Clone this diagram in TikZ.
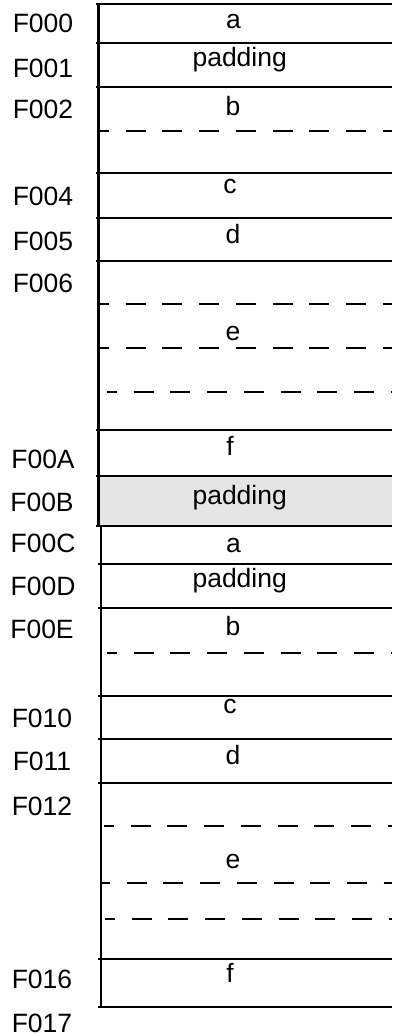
\documentclass[tikz,border=0pt]{standalone}
\usepackage{fontspec}
\setmainfont{Liberation Sans}
\begin{document}
\begin{tikzpicture}[x=1pt,y=-1pt,
  rowline/.style={line width=2.2pt},
  dashline/.style={line width=2.2pt, dash pattern=on 20pt off 16.7pt, dash phase=10pt},
  colline/.style={line width=2.2pt},
  addr/.style={anchor=base, inner sep=0pt, font=\fontsize{26.5}{31}\selectfont},
  field/.style={anchor=base, inner sep=0pt, font=\fontsize{26.5}{31}\selectfont},
  padfill/.style={fill=black!10}]
\useasboundingbox (0,0) rectangle (392,1036);
% gray padding block
\fill[padfill] (98.5,475.7) rectangle (392,525.7);
% vertical lines
\draw[colline] (98.5,3) -- (98.5,526.5);
\draw[colline] (100.7,525) -- (100.7,1007.7);
% solid row lines
\foreach \y in {4,43.3,86.7,173.3,217.7,261,430,475.7,525.7}
  \draw[rowline] (96,\y) -- (392,\y);
\foreach \y in {564.3,608.3,696,739,782.7,959,1006.7}
  \draw[rowline] (98,\y) -- (392,\y);
% dashed row lines
\draw[dashline] (99,131) -- (392,131);
\draw[dashline] (99,304) -- (392,304);
\draw[dashline] (99,348) -- (392,348);
\draw[dashline] (107,392) -- (392,392);
\draw[dashline] (107,653) -- (392,653);
\draw[dashline] (104,826) -- (392,826);
\draw[dashline] (100,883) -- (392,883);
\draw[dashline] (105,919) -- (392,919);
% field texts
\node[field] (fa1) at (233.5,28.3) {a};
\node[field] (fp1) at (239.7,66.7) {padding};
\node[field] (fb1) at (233,115) {b};
\node[field] (fc1) at (230,193) {c};
\node[field] (fd1) at (233,243) {d};
\node[field] (fe1) at (233,340) {e};
\node[field] (ff1) at (230,455) {f};
\node[field] (fpg) at (239.7,504.3) {padding};
\node[field] (fa2) at (233.5,552) {a};
\node[field] (fp2) at (239.7,587) {padding};
\node[field] (fb2) at (233,635) {b};
\node[field] (fc2) at (230,713) {c};
\node[field] (fd2) at (233,764) {d};
\node[field] (fe2) at (233,868) {e};
\node[field] (ff2) at (230,982) {f};
% addresses
\node[addr] (l00) at (43,32) {F000};
\node[addr] (l01) at (43,77) {F001};
\node[addr] (l02) at (43,118) {F002};
\node[addr] (l04) at (43,205) {F004};
\node[addr] (l05) at (43,250) {F005};
\node[addr] (l06) at (43,292) {F006};
\node[addr] (l0A) at (43,468) {F00A};
\node[addr] (l0B) at (42,511) {F00B};
\node[addr] (l0C) at (43,552) {F00C};
\node[addr] (l0D) at (43,595) {F00D};
\node[addr] (l0E) at (42,638) {F00E};
\node[addr] (l10) at (42,727) {F010};
\node[addr] (l11) at (42,770.5) {F011};
\node[addr] (l12) at (42,815) {F012};
\node[addr] (l16) at (42,988) {F016};
\node[addr] (l17) at (42,1032) {F017};
\end{tikzpicture}
\end{document}
